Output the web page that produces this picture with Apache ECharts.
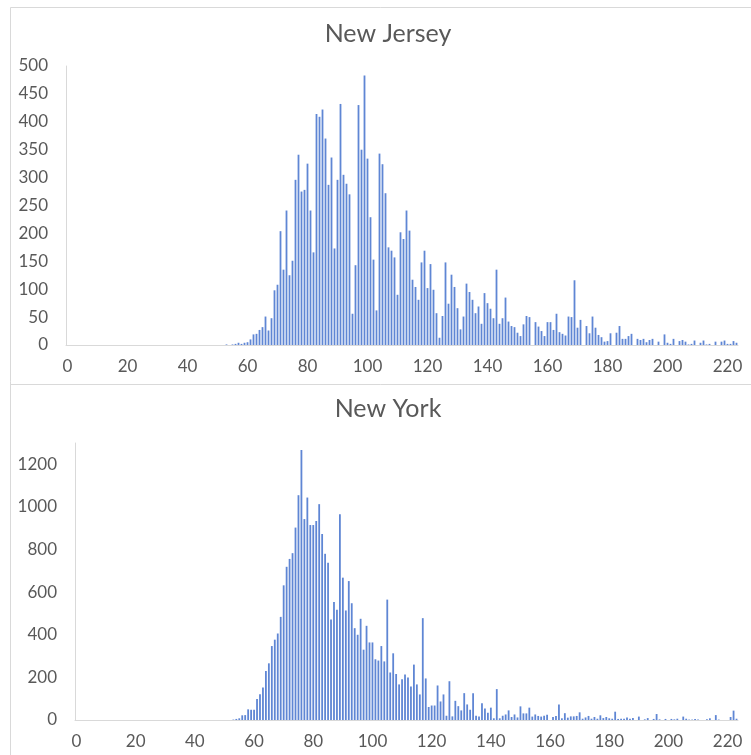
<!DOCTYPE html>
<html>
<head>
<meta charset="utf-8">
<script src="https://cdn.jsdelivr.net/npm/echarts@6/dist/echarts.min.js"></script>
<style>
html,body{margin:0;padding:0;background:#fff;}
#chart{width:751px;height:755px;}
</style>
</head>
<body>
<div id="chart"></div>
<script>
// Categories: value buckets 0..223 (x-axis tick labels shown every 20)
const categories = [];
for (let i = 0; i <= 223; i++) categories.push(String(i));

const njTitle = 'New Jersey';
const nyTitle = 'New York';

// New Jersey counts per bucket 0..223
const njCounts = [
  0,0,0,0,0,0,0,0,0,0, 0,0,0,0,0,0,0,0,0,0, 0,0,0,0,0,0,0,0,0,0,
  0,0,0,0,0,0,0,0,0,0, 0,0,0,0,0,0,0,0,0,0, 0,0,0,1,0,1,2,4,2,4,
  5,10,19,20,27,32,51,26,48,98, 108,204,135,241,125,151,296,341,275,278,
  325,241,166,414,409,422,370,287,336,173, 296,432,305,289,270,56,143,430,350,483,
  334,229,153,62,343,324,272,175,169,157, 90,202,190,241,205,117,104,81,148,169,
  102,145,99,57,13,52,148,74,126,104, 66,28,51,110,95,81,57,69,38,93,
  75,65,48,135,38,48,85,42,34,32, 22,16,37,52,50,0,41,33,25,16,
  41,41,27,56,23,20,17,51,50,116, 31,45,0,34,21,51,31,18,14,6,
  7,21,0,22,34,11,11,16,20,0, 11,9,11,5,9,11,0,6,0,19,
  4,2,11,0,7,9,6,1,2,8, 0,4,8,1,2,0,6,0,6,8,
  2,2,7,4
];

// New York counts per bucket 0..223
const nyCounts = [
  0,0,0,0,0,0,0,0,0,0, 0,0,0,0,0,0,0,0,0,0, 0,0,0,0,0,0,0,0,0,0,
  0,0,0,0,0,0,0,0,0,0, 0,0,0,0,0,0,0,0,0,0, 0,0,0,2,5,8,22,23,50,48,
  48,98,121,153,230,266,347,377,406,484, 632,719,756,783,903,1055,1267,943,1044,915,
  915,934,1013,873,780,738,472,554,518,966, 668,514,652,548,431,400,475,330,442,364,
  364,285,279,347,275,565,223,313,216,167, 191,213,199,157,260,167,120,478,195,61,
  68,68,162,87,120,20,182,17,90,65, 45,126,73,48,125,20,16,79,54,34,
  58,8,145,8,20,26,45,14,26,12, 64,31,31,58,16,26,19,16,20,25,
  0,14,19,73,8,32,11,17,17,19, 36,6,12,19,6,14,6,22,9,14,
  8,6,39,5,6,6,12,6,9,0, 16,0,3,9,0,5,28,3,0,5,
  0,5,3,6,0,16,6,2,2,5, 2,0,0,3,8,0,23,2,0,0,
  0,14,44,6
];

const njYMax = 500, njYStep = 50;
const nyYMax = 1300, nyYStep = 200;

const FONT = 'Lato, "Open Sans", sans-serif';
const TEXT = '#595959';
const AXIS = '#d9d9d9';
const BAR = '#5f86d4';

const chart = echarts.init(document.getElementById('chart'), null, {renderer: 'canvas'});

function xAxisFor(gridIndex) {
  return {
    type: 'category', gridIndex, data: categories, boundaryGap: true,
    axisLine: {show: true, lineStyle: {color: AXIS, width: 1}},
    axisTick: {show: false},
    axisLabel: {interval: 19, color: TEXT, fontFamily: FONT, fontSize: 17, margin: 13},
    splitLine: {show: false}
  };
}
function yAxisFor(gridIndex, max, step) {
  return {
    type: 'value', gridIndex, min: 0, max: max, interval: step,
    axisLine: {show: true, lineStyle: {color: AXIS, width: 1}},
    axisTick: {show: false},
    splitLine: {show: false},
    axisLabel: {
      color: TEXT, fontFamily: FONT, fontSize: 17, margin: 18,
      formatter: v => (v % step === 0 ? String(v) : '')
    }
  };
}

chart.setOption({
  animation: false,
  backgroundColor: '#fff',
  graphic: [
    {type: 'line', shape: {x1: 10.5, y1: 7.5, x2: 751, y2: 7.5}, style: {stroke: AXIS, lineWidth: 1}, silent: true},
    {type: 'line', shape: {x1: 10.5, y1: 7.5, x2: 10.5, y2: 755}, style: {stroke: AXIS, lineWidth: 1}, silent: true},
    {type: 'line', shape: {x1: 10.5, y1: 384.5, x2: 751, y2: 384.5}, style: {stroke: AXIS, lineWidth: 1}, silent: true},
    {type: 'text', x: 388, y: 34, style: {text: njTitle, fill: TEXT, font: '25px ' + FONT, textAlign: 'center', textVerticalAlign: 'middle'}, silent: true},
    {type: 'text', x: 388, y: 409, style: {text: nyTitle, fill: TEXT, font: '25px ' + FONT, textAlign: 'center', textVerticalAlign: 'middle'}, silent: true}
  ],
  grid: [
    {left: 66, top: 66, width: 672, height: 279, containLabel: false},
    {left: 75, top: 443, width: 663, height: 277, containLabel: false}
  ],
  xAxis: [xAxisFor(0), xAxisFor(1)],
  yAxis: [yAxisFor(0, njYMax, njYStep), yAxisFor(1, nyYMax, nyYStep)],
  series: [
    {type: 'bar', xAxisIndex: 0, yAxisIndex: 0, data: njCounts, barWidth: 1.8, itemStyle: {color: BAR}},
    {type: 'bar', xAxisIndex: 1, yAxisIndex: 1, data: nyCounts, barWidth: 1.8, itemStyle: {color: BAR}}
  ]
});
</script>
</body>
</html>
